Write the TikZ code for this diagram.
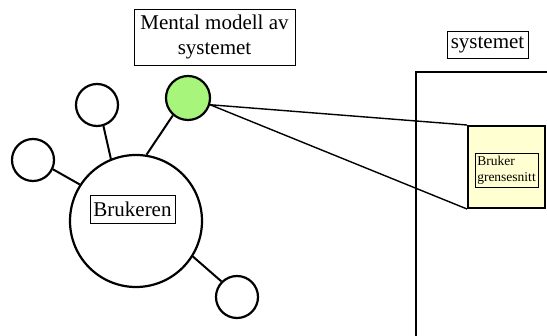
\documentclass[tikz,border=0pt]{standalone}
\usepackage{fontspec}
\setmainfont{Liberation Serif}
\usetikzlibrary{positioning}
\definecolor{modellgreen}{HTML}{A8F57C}
\definecolor{uiyellow}{HTML}{FFFFD2}
\tikzset{
    bubble/.style={draw, circle, line width=2.2pt, inner sep=0pt},
    labelbox/.style={draw, line width=0.7pt, inner sep=1pt},
    link/.style={line width=2pt},
}

\begin{document}
\begin{tikzpicture}[x=1pt, y=-1pt, font=\fontsize{21}{25}\selectfont]
    \useasboundingbox (0,0) rectangle (547,336);

    \node[bubble, minimum size=132pt]                   (Brukeren)  at (136,221) {};
    \node[labelbox, minimum width=85pt, minimum height=28pt] (BrukerTxt) at (132.5,209) {Brukeren};
    \node[bubble, minimum size=42pt]                    (Bubble A)  at (97,105)  {};
    \node[bubble, minimum size=42pt]                    (Bubble B)  at (33,160)  {};
    \node[bubble, minimum size=42pt]                    (Bubble C)  at (237,297) {};
    \node[bubble, minimum size=44pt, fill=modellgreen]  (Modell)    at (188,98)  {};

    \node[labelbox, align=center, minimum width=161pt, minimum height=56pt] (ModellTxt) at (214.5,37) {Mental modell av\\systemet};
    \node[labelbox, minimum width=81pt, minimum height=27pt]               (SystemTxt) at (487.5,44.5) {systemet};

    \draw[link] (547,72) -| (416,336);

    \node[draw, line width=2pt, fill=uiyellow, minimum width=77pt, minimum height=82pt] (Grensesnitt) at (506.5,167) {};
    \node[labelbox, align=left, font=\fontsize{13.5}{16}\selectfont, minimum width=63pt, minimum height=34pt] (GrensesnittTxt) at (506.5,170) {Bruker\\grensesnitt};

    \draw[link] (Bubble A.-73)  -- (Brukeren.112);
    \draw[link] (Bubble B.-25)  -- (Brukeren.147);
    \draw[link] (Modell.229)    -- (Brukeren.81);
    \draw[link] (Brukeren.-32)  -- (Bubble C.135);
    \draw[line width=1.4pt] (Modell.-17) -- (Grensesnitt.north west);
    \draw[line width=1.4pt] (Modell.-17) -- (Grensesnitt.south west);
\end{tikzpicture}
\end{document}
